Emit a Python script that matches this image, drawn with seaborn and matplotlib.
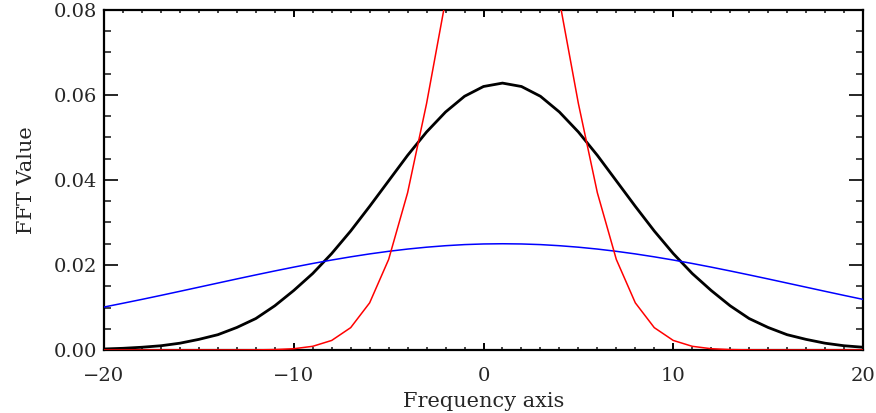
import matplotlib
matplotlib.use("Agg")
import matplotlib.pyplot as plt
import seaborn as sns
import pandas as pd
from matplotlib.ticker import MultipleLocator

freq = list(range(-20, 21))

black_vals = [0.00024, 0.0004, 0.00065, 0.0010, 0.0016, 0.0025, 0.0036, 0.0053, 0.0074, 0.0104,
              0.0140, 0.0180, 0.0227, 0.0280, 0.0338, 0.0398, 0.0458, 0.0513, 0.0560, 0.0597,
              0.0620, 0.0628, 0.0620, 0.0597, 0.0560, 0.0513, 0.0458, 0.0398, 0.0338, 0.0280,
              0.0227, 0.0180, 0.0140, 0.0104, 0.0074, 0.0053, 0.0036, 0.0025, 0.0016, 0.0010,
              0.00065]

red_vals = [0.0, 0.0, 0.0, 0.0, 0.0, 0.0, 0.0, 0.000007, 0.000028, 0.000096,
            0.00030, 0.00087, 0.00225, 0.00526, 0.0111, 0.0213, 0.0370, 0.0580, 0.0823, 0.1056,
            0.1227, 0.1290, 0.1227, 0.1056, 0.0823, 0.0580, 0.0370, 0.0213, 0.0111, 0.00526,
            0.00225, 0.00087, 0.00030, 0.000096, 0.000028, 0.000007, 0.0, 0.0, 0.0, 0.0,
            0.0]

blue_vals = [0.01011, 0.01100, 0.01191, 0.01285, 0.01381, 0.01478, 0.01575, 0.01672, 0.01767, 0.01860,
             0.01950, 0.02036, 0.02117, 0.02192, 0.02261, 0.02322, 0.02375, 0.02419, 0.02454, 0.02480,
             0.02495, 0.02500, 0.02495, 0.02480, 0.02454, 0.02419, 0.02375, 0.02322, 0.02261, 0.02192,
             0.02117, 0.02036, 0.01950, 0.01860, 0.01767, 0.01672, 0.01575, 0.01478, 0.01381, 0.01285,
             0.01191]

x_ticks = [-20, -10, 0, 10, 20]
x_ticklabels = ["\u221220", "\u221210", "0", "10", "20"]
y_ticks = [0.00, 0.02, 0.04, 0.06, 0.08]
y_ticklabels = ["0.00", "0.02", "0.04", "0.06", "0.08"]

sns.set_style("ticks")
plt.rcParams['font.family'] = ['DejaVu Serif']

fig = plt.figure(figsize=(8.76, 4.13), dpi=100)
ax = fig.add_axes([104/876, 1-350/413, (863-104)/876, 340/413])

df_black = pd.DataFrame({"f": freq, "v": black_vals})
df_red = pd.DataFrame({"f": freq, "v": red_vals})
df_blue = pd.DataFrame({"f": freq, "v": blue_vals})

sns.lineplot(data=df_blue, x="f", y="v", ax=ax, color="#0000ff", linewidth=1.1, zorder=4)
sns.lineplot(data=df_red, x="f", y="v", ax=ax, color="#ff0000", linewidth=1.1, zorder=4)
sns.lineplot(data=df_black, x="f", y="v", ax=ax, color="black", linewidth=2.0, zorder=3.5)

ax.set_xlim(-20, 20)
ax.set_ylim(0, 0.08)
ax.set_xticks(x_ticks)
ax.set_xticklabels(x_ticklabels)
ax.set_yticks(y_ticks)
ax.set_yticklabels(y_ticklabels)
ax.xaxis.set_minor_locator(MultipleLocator(1))
ax.yaxis.set_minor_locator(MultipleLocator(0.005))

ax.tick_params(axis="x", which="major", direction="in", length=5, width=1.4,
               top=True, bottom=True, pad=12, labelsize=14, color="black")
ax.tick_params(axis="x", which="minor", direction="in", length=2.5, width=1.2,
               top=True, bottom=True)
ax.tick_params(axis="y", which="major", direction="in", length=10, width=1.4,
               left=True, right=True, pad=5, labelsize=14)
ax.tick_params(axis="y", which="minor", direction="in", length=5, width=1.2,
               left=True, right=True)

for s in ax.spines.values():
    s.set_visible(True)
    s.set_linewidth(1.6)
    s.set_color("black")
    s.set_zorder(3)

ax.set_xlabel("Frequency axis", fontsize=15, labelpad=5)
ax.set_ylabel("FFT Value", fontsize=15, labelpad=13)

fig.savefig("out.png", dpi=100)
